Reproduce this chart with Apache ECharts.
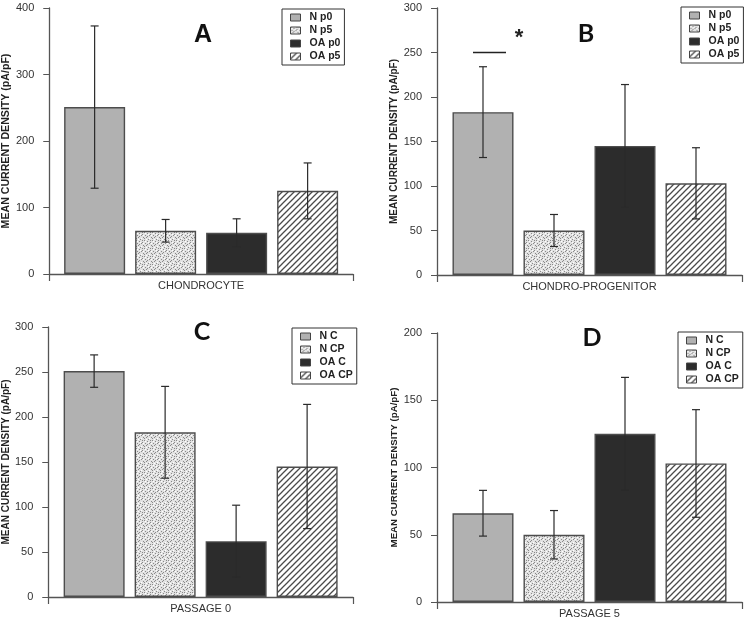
<!DOCTYPE html>
<html><head><meta charset="utf-8">
<script src="https://cdn.jsdelivr.net/npm/echarts@6/dist/echarts.min.js"></script>
<style>html,body{margin:0;padding:0;background:#fff}#c{width:751px;height:621px}</style>
</head><body><div id="c"></div>
<script>
// ---------- DATA ----------
const groupsAB = ['N p0', 'N p5', 'OA p0', 'OA p5'];
const groupsCD = ['N C', 'N CP', 'OA C', 'OA CP'];
const categoryA = 'CHONDROCYTE';
const categoryB = 'CHONDRO-PROGENITOR';
const categoryC = 'PASSAGE 0';
const categoryD = 'PASSAGE 5';
const meanA = [251, 65, 62, 125];
const errA  = [122, 17, 21, 42];
const meanB = [183, 50, 145, 103];
const errB  = [51, 18, 69, 40];
const meanC = [251, 183, 62, 145];
const errC  = [18, 51, 40, 69];
const meanD = [66, 50, 125, 103];
const errD  = [17, 18, 42, 40];
const yMaxA = 400, yStepA = 100;
const yMaxB = 300, yStepB = 50;
const yMaxC = 300, yStepC = 50;
const yMaxD = 200, yStepD = 50;
const sigLevelB = 250;
const sigMarkB = '*';
const panelLetters = ['A', 'B', 'C', 'D'];
const yTitle = 'MEAN CURRENT DENSITY (pA/pF)';

// ---------- STYLE ----------
const BAR_W = 61, BAR_GAP = 10;
function hatchPattern() {
  const c = document.createElement('canvas'); c.width = 6; c.height = 6;
  const g = c.getContext('2d');
  g.fillStyle = '#ffffff'; g.fillRect(0, 0, 6, 6);
  g.strokeStyle = '#4a4a4a'; g.lineWidth = 1.3;
  g.beginPath();
  g.moveTo(-1, 7); g.lineTo(7, -1);
  g.moveTo(-4, 4); g.lineTo(4, -4);
  g.moveTo(2, 10); g.lineTo(10, 2);
  g.stroke();
  return {image: c, repeat: 'repeat'};
}
function stipplePattern() {
  const c = document.createElement('canvas'); c.width = 8; c.height = 8;
  const g = c.getContext('2d');
  g.fillStyle = '#e2e2e2'; g.fillRect(0, 0, 8, 8);
  const dark = [[0,0],[3,1],[6,0],[1,3],[5,3],[2,5],[7,5],[0,6],[4,7],[6,2],[3,4]];
  g.fillStyle = '#8a8a8a';
  dark.forEach(p => g.fillRect(p[0], p[1], 1, 1));
  const light = [[1,1],[4,2],[7,3],[2,7],[5,6]];
  g.fillStyle = '#ffffff';
  light.forEach(p => g.fillRect(p[0], p[1], 1, 1));
  return {image: c, repeat: 'repeat'};
}
const fills = ['#b1b1b1', stipplePattern(), '#2c2c2c', hatchPattern()];

const panels = [
  {groups: groupsAB, cat: categoryA, mean: meanA, err: errA, yMax: yMaxA, step: yStepA,
   grid: {left: 47, top: 8, width: 306, height: 266}, legend: {left: 282, top: 9},
   letter: {x: 203, y: 35, font: 'Liberation Sans'}, nameSize: 10.6, nameGap: 31},
  {groups: groupsAB, cat: categoryB, mean: meanB, err: errB, yMax: yMaxB, step: yStepB,
   grid: {left: 437, top: 8, width: 305, height: 267}, legend: {left: 681, top: 7},
   letter: {x: 586, y: 34, font: 'Lato'}, nameSize: 10, nameGap: 31},
  {groups: groupsCD, cat: categoryC, mean: meanC, err: errC, yMax: yMaxC, step: yStepC,
   grid: {left: 46, top: 327, width: 307, height: 270}, legend: {left: 292, top: 328},
   letter: {x: 202, y: 332, font: 'Lato'}, nameSize: 10, nameGap: 31},
  {groups: groupsCD, cat: categoryD, mean: meanD, err: errD, yMax: yMaxD, step: yStepD,
   grid: {left: 437, top: 333, width: 305, height: 269}, legend: {left: 678, top: 332},
   letter: {x: 592, y: 338, font: 'Lato'}, nameSize: 9.7, nameGap: 31}
];

const option = {
  animation: false,
  backgroundColor: '#ffffff',
  textStyle: {fontFamily: 'Liberation Sans, Arial, sans-serif'},
  grid: [], xAxis: [], yAxis: [], legend: [], series: [], graphic: []
};

panels.forEach((p, k) => {
  option.grid.push(Object.assign({containLabel: false}, p.grid));
  option.xAxis.push({
    type: 'category', gridIndex: k, data: [p.cat],
    axisLine: {lineStyle: {color: '#555', width: 1.3}},
    axisTick: {show: true, length: 7, lineStyle: {color: '#555', width: 1.2}},
    axisLabel: {color: '#333', fontSize: 11, margin: 6}
  });
  option.yAxis.push({
    type: 'value', gridIndex: k, min: 0, max: p.yMax, interval: p.step,
    name: yTitle, nameLocation: 'middle', nameGap: p.nameGap,
    nameTextStyle: {fontSize: p.nameSize, fontWeight: 'bold', color: '#222'},
    axisLine: {show: true, lineStyle: {color: '#555', width: 1.3}},
    axisTick: {show: true, length: 6, lineStyle: {color: '#555'}},
    axisLabel: {color: '#333', fontSize: 11, margin: 15},
    splitLine: {show: false}
  });
  option.legend.push({
    orient: 'vertical', left: p.legend.left, top: p.legend.top,
    data: p.groups.map(n => ({name: n, icon: 'rect'})), selectedMode: false,
    borderColor: '#333', borderWidth: 1, padding: [3, 4, 3, 8],
    itemWidth: 10, itemHeight: 7, itemGap: 2,
    itemStyle: {borderWidth: 1, borderColor: '#444'},
    textStyle: {fontSize: 10.5, fontWeight: 'bold', color: '#222', padding: [0, 0, 0, 4]}
  });
  p.groups.forEach((g, i) => {
    option.series.push({
      type: 'bar', name: g, xAxisIndex: k, yAxisIndex: k,
      data: [p.mean[i]], barWidth: BAR_W, barGap: (BAR_GAP / BAR_W * 100) + '%',
      itemStyle: {color: fills[i], borderColor: '#4d4d4d', borderWidth: 1.4}
    });
  });
  option.series.push({
    type: 'custom', xAxisIndex: k, yAxisIndex: k, z: 5,
    data: p.mean.map((m, i) => [0, m, p.err[i], i]),
    encode: {x: 0, y: 1},
    renderItem: function (params, api) {
      const i = api.value(3), m = api.value(1), e = api.value(2);
      const x = api.coord([0, m])[0] + (i - 1.5) * (BAR_W + BAR_GAP);
      const yt = api.coord([0, m + e])[1], yb = api.coord([0, m - e])[1];
      const st = {stroke: '#2a2a2a', lineWidth: 1.2};
      return {type: 'group', children: [
        {type: 'line', shape: {x1: x, y1: yt, x2: x, y2: yb}, style: st},
        {type: 'line', shape: {x1: x - 4, y1: yt, x2: x + 4, y2: yt}, style: st},
        {type: 'line', shape: {x1: x - 4, y1: yb, x2: x + 4, y2: yb}, style: st}
      ]};
    }
  });
  option.graphic.push({
    type: 'text', x: p.letter.x, y: p.letter.y,
    style: {text: panelLetters[k], font: 'bold 25px ' + p.letter.font, fill: '#111',
            align: 'center', verticalAlign: 'middle'}
  });
});

// significance marker in panel B
option.series.push({
  type: 'custom', xAxisIndex: 1, yAxisIndex: 1, z: 6,
  data: [[0, sigLevelB]], encode: {x: 0, y: 1},
  renderItem: function (params, api) {
    const c = api.coord([0, api.value(1)]);
    const x0 = c[0] - 1.5 * (BAR_W + BAR_GAP);
    return {type: 'group', children: [
      {type: 'line', shape: {x1: x0 - 10, y1: c[1], x2: x0 + 23, y2: c[1]},
       style: {stroke: '#222', lineWidth: 1.5}},
      {type: 'text', x: x0 + 36, y: c[1] - 15,
       style: {text: sigMarkB, font: 'bold 22px Liberation Sans', fill: '#222',
               align: 'center', verticalAlign: 'middle'}}
    ]};
  }
});

const chart = echarts.init(document.getElementById('c'), null, {renderer: 'canvas'});
chart.setOption(option);
</script>
</body></html>
